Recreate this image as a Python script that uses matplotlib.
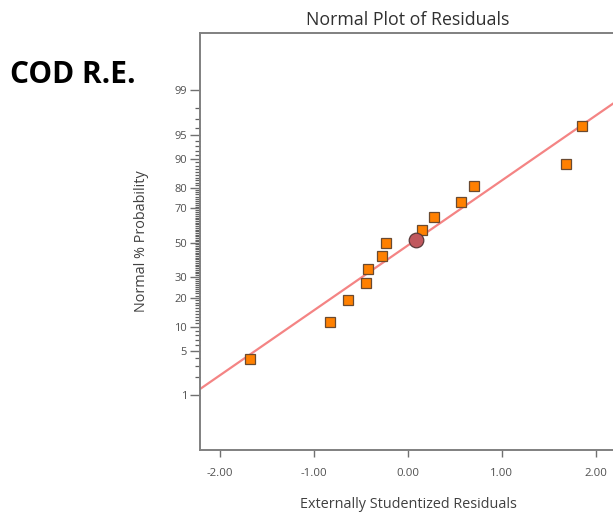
import matplotlib
matplotlib.use('Agg')
import matplotlib.pyplot as plt
import numpy as np
from statistics import NormalDist

plt.rcParams['font.family'] = ['Open Sans', 'DejaVu Sans']

# residuals (x) and their normal % probability (y)
residuals = [-1.68, -0.83, -0.64, -0.45, -0.43, -0.28, -0.23, 0.15, 0.28, 0.56, 0.70, 1.68, 1.85]
probability = [3.85, 11.5, 19.2, 26.9, 34.6, 42.3, 50.0, 57.7, 65.4, 73.1, 80.8, 88.5, 96.2]

# highlighted point
sel_x = [0.09]
sel_p = [51.5]

# reference line: z = slope * x + intercept
line_slope = 0.99
line_intercept = -0.038
x_range = [-2.22, 2.22]

ytick_pct = [1, 5, 10, 20, 30, 50, 70, 80, 90, 95, 99]
minor_pct = list(range(1, 100))
xticks = [-2, -1, 0, 1, 2]

nd = NormalDist()


def to_z(p):
    return [nd.inv_cdf(v / 100.0) for v in p]


fig = plt.figure(figsize=(6.13, 5.12), dpi=100)
ax = fig.add_axes([199.5 / 613, 1 - 450 / 512, 417 / 613, 417 / 512])

lx = np.array(x_range)
ax.plot(lx, line_slope * lx + line_intercept, color='#f48484', lw=1.6, zorder=2)
ax.plot(residuals, to_z(probability), ls='none', marker='s', ms=6.8,
        mfc='#ff8000', mec='#6a4a30', mew=0.9, zorder=3)
ax.plot(sel_x, to_z(sel_p), ls='none', marker='o', ms=10.5,
        mfc='#c0585e', mec='#5a3a3a', mew=0.9, zorder=4)

ax.set_xlim(x_range)
ax.set_ylim(-3.16, 3.2)

ax.set_xticks(xticks)
ax.set_xticklabels(['%.2f' % v for v in xticks])
ax.set_yticks(to_z(ytick_pct))
ax.set_yticklabels([str(v) for v in ytick_pct])
ax.set_yticks(to_z(minor_pct), minor=True)

ax.tick_params(axis='y', which='major', length=7, width=1, color='#707070',
               labelsize=8, labelcolor='#505050', pad=2)
ax.tick_params(axis='y', which='minor', length=3.5, width=0.9, color='#606060')
ax.tick_params(axis='x', which='major', length=5, width=1, color='#707070',
               labelsize=8.2, labelcolor='#505050', pad=8)

for s in ['left', 'bottom', 'top', 'right']:
    ax.spines[s].set_color('#808080')
    ax.spines[s].set_linewidth(1.4)

ax.set_title('Normal Plot of Residuals', fontsize=12.8, color='#303030', pad=6)
ax.set_xlabel('Externally Studentized Residuals', fontsize=10.4, color='#404040', labelpad=13)
ax.set_ylabel('Normal % Probability', fontsize=10.4, color='#404040', labelpad=18)

fig.text(10 / 613, 1 - 75 / 512, 'COD R.E.', fontsize=21.5, fontweight='bold',
         color='black', va='center', ha='left')

fig.savefig('out.png', dpi=100)
